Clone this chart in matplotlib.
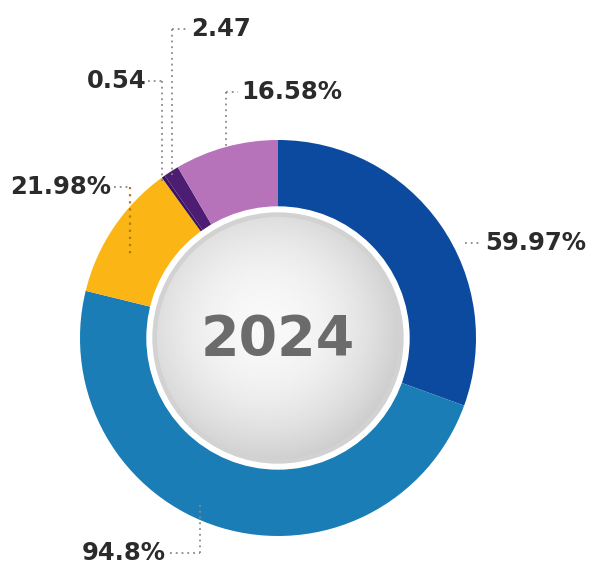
import numpy as np
import matplotlib.pyplot as plt
from matplotlib.patches import Circle

# share values, clockwise from 12 o'clock
labels = ['59.97%', '94.8%', '21.98%', '0.54', '2.47', '16.58%']
values = [59.97, 94.8, 21.98, 0.54, 2.47, 16.58]
colors = ['#0b4a9e', '#1a7db6', '#fbb515', '#3c145f', '#4c1d73', '#b673b9']
year = '2024'

W, H = 593, 576
cx, cy = 278, 238
R, ring = 198, 67

fig = plt.figure(figsize=(W / 100, H / 100), dpi=100)
ax = fig.add_axes([0, 0, 1, 1])
ax.set_xlim(0, W)
ax.set_ylim(0, H)
ax.set_aspect('equal')
ax.axis('off')

wedges, _ = ax.pie(values, colors=colors, startangle=90, counterclock=False,
                   center=(cx, cy), radius=R, frame=False,
                   wedgeprops=dict(width=ring, edgecolor='none'))
ax.set_xlim(0, W)
ax.set_ylim(0, H)

# centre disc: white rim then soft grey gradient
r_in = R - ring
ax.add_patch(Circle((cx, cy), r_in, color='white', zorder=3))
ax.add_patch(Circle((cx, cy), r_in - 6, color='#d2d2d2', zorder=3))
disc_r = r_in - 10
g = np.linspace(-1, 1, 300)
gx, gy = np.meshgrid(g, g)
d = np.sqrt((gx + 0.1) ** 2 + (gy + 0.1) ** 2)
shade = np.clip(0.975 - 0.13 * d ** 2, 0.8, 1)
img = ax.imshow(shade, cmap='gray', vmin=0, vmax=1, zorder=4,
                extent=(cx - disc_r, cx + disc_r, cy - disc_r, cy + disc_r))
img.set_clip_path(Circle((cx, cy), disc_r, transform=ax.transData))
ax.text(cx, cy - 2, year, ha='center', va='center', fontsize=40,
        fontweight='bold', color='#6b6b6b', zorder=5, family='DejaVu Sans')


def ring_y(x):
    # height of the outer ring edge above/below centre at horizontal position x
    return np.sqrt(max(R ** 2 - (x - cx) ** 2, 0))


dot = dict(color='#8a8a8a', lw=1.3, ls=(0, (1, 2.2)), zorder=6)
txt = dict(fontsize=17.5, fontweight='bold', color='#2b2b2b', va='center',
           family='DejaVu Sans', zorder=6)

# 59.97% : short horizontal leader on the right
y = 576 - 243
ax.plot([465, 482], [y, y], **dot)
ax.text(485, y, labels[0], ha='left', **txt)

# 94.8% : bottom left, leader goes up into the ring
y = 576 - 553
ax.plot([170, 200], [y, y], **dot)
ax.plot([200, 200], [y, cy - ring_y(200) + 18], **dot)
ax.text(166, y, labels[1], ha='right', **txt)

# 21.98%
y = 576 - 187
ax.plot([114, 130], [y, y], **dot)
ax.plot([130, 130], [y, 576 - 256], color='#b07a10', lw=1.6,
        ls=(0, (1, 2.2)), zorder=6)
ax.text(111, y, labels[2], ha='right', **txt)

# 0.54
y = 576 - 81
ax.plot([148, 162], [y, y], **dot)
ax.plot([162, 162], [y, cy + ring_y(162) - 4], **dot)
ax.text(146, y, labels[3], ha='right', **txt)

# 2.47
y = 576 - 29
ax.plot([172, 188], [y, y], **dot)
ax.plot([172, 172], [y, cy + ring_y(172) - 4], **dot)
ax.text(191, y, labels[4], ha='left', **txt)

# 16.58%
y = 576 - 92
ax.plot([226, 238], [y, y], **dot)
ax.plot([226, 226], [y, cy + ring_y(226)], **dot)
ax.text(241, y, labels[5], ha='left', **txt)

fig.savefig('out.png', dpi=100, facecolor='white')
